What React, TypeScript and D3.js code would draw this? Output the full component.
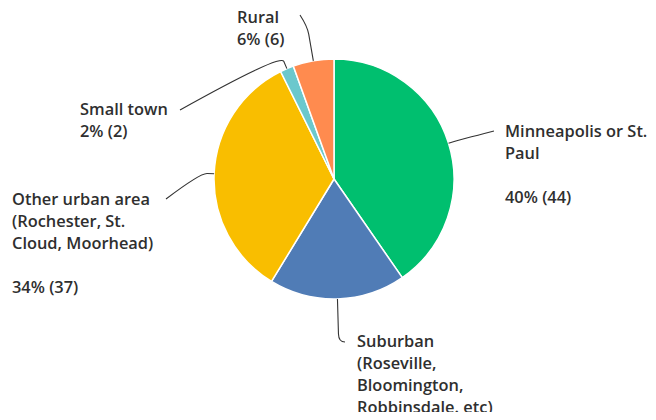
import React from "react";
import * as d3 from "d3";

const categories = [
  "Minneapolis or St. Paul",
  "Suburban (Roseville, Bloomington, Robbinsdale. etc)",
  "Other urban area (Rochester, St. Cloud, Moorhead)",
  "Small town",
  "Rural",
];
const counts = [44, 20, 37, 2, 6];
const colors = ["#00BF6F", "#507CB6", "#F9BE00", "#6BC8CD", "#FF8B4F"];

// label text lines ("{p}" line is generated from the data)
const labelLines = [
  ["Minneapolis or St.", "Paul", "", "{p}"],
  ["Suburban", "(Roseville,", "Bloomington,", "Robbinsdale. etc)"],
  ["Other urban area", "(Rochester, St.", "Cloud, Moorhead)", "", "{p}"],
  ["Small town", "{p}"],
  ["Rural", "{p}"],
];

// layout: label anchor + leader line
const layout = [
  { x: 505, y: 137, ext: 10, end: [494, 131] },
  { x: 357, y: 347, ext: 43, end: [345, 342] },
  { x: 12, y: 205, ext: 14, end: [166, 199] },
  { x: 80, y: 115, ext: 16, end: [180, 110] },
  { x: 237, y: 23, ext: 35, end: [300, 15] },
];

const W = 656;
const H = 420;
const cx = 334;
const cy = 179;
const R = 120;
const LH = 22;

export default function App() {
  const total = d3.sum(counts);
  const pie = d3.pie<number>().sort(null).value((d) => d);
  const arcs = pie(counts);
  const arc = d3.arc<d3.PieArcDatum<number>>().innerRadius(0).outerRadius(R);

  const pt = (a: number, r: number) => [cx + r * Math.sin(a), cy - r * Math.cos(a)];

  return (
    <div style={{ margin: -8 }}>
      <svg width={W} height={H} style={{ display: "block", background: "#fff" }}>
        <g transform={`translate(${cx},${cy})`}>
          {arcs.map((a, i) => (
            <path
              key={categories[i]}
              d={arc(a) || ""}
              fill={colors[i]}
              stroke="#fff"
              strokeWidth={1.5}
              strokeLinejoin="round"
            />
          ))}
        </g>
        {arcs.map((a, i) => {
          const mid = (a.startAngle + a.endAngle) / 2;
          const L = layout[i];
          const p0 = pt(mid, R);
          const pa = pt(mid, R + L.ext - Math.min(8, L.ext * 0.5));
          const pb = pt(mid, R + L.ext);
          const d = `M${p0[0]},${p0[1]} L${pa[0]},${pa[1]} Q${pb[0]},${pb[1]} ${L.end[0]},${L.end[1]}`;
          return <path key={"l" + i} d={d} fill="none" stroke="#333" strokeWidth={1.1} />;
        })}
        {labelLines.map((lines, i) => {
          const L = layout[i];
          const pct = `${Math.round((counts[i] / total) * 100)}% (${counts[i]})`;
          return (
            <text
              key={"t" + i}
              x={L.x}
              y={L.y}
              fontFamily="'Open Sans', Roboto, sans-serif"
              fontWeight={600}
              fontSize={16.4}
              fill="#2f2f2f"
            >
              {lines.map((ln, j) => (
                <tspan key={j} x={L.x} y={L.y + j * LH}>
                  {ln === "{p}" ? pct : ln}
                </tspan>
              ))}
            </text>
          );
        })}
      </svg>
    </div>
  );
}
